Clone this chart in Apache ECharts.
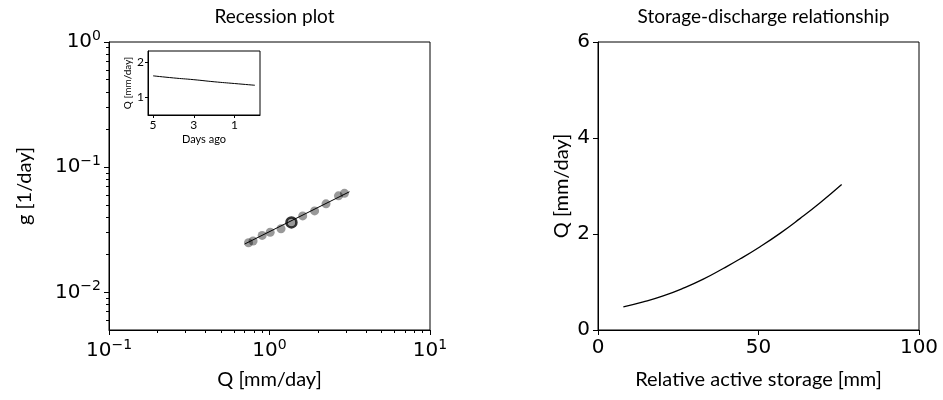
<!DOCTYPE html>
<html>
<head>
<meta charset="utf-8">
<script src="https://cdn.jsdelivr.net/npm/echarts@6/dist/echarts.min.js"></script>
<style>
  html, body { margin: 0; padding: 0; background: #fff; }
  #chart { width: 943px; height: 400px; }
</style>
</head>
<body>
<div id="chart"></div>
<script>
// Recession points: discharge Q [mm/day] and recession rate g [1/day]
const recessionQ = [0.74, 0.79, 0.90, 1.01, 1.18, 1.37, 1.61, 1.91, 2.25, 2.69, 2.93];
const recessionG = [0.0249, 0.0257, 0.0285, 0.0302, 0.0322, 0.0362, 0.0408, 0.0447, 0.0509, 0.0590, 0.0618];
// Fitted power-law line (end points)
const fitQ = [0.70, 3.15];
const fitG = [0.0243, 0.0636];
// Current state marker
const currentQ = [1.37];
const currentG = [0.0362];
// Inset: discharge over the last days
const daysAgo = [5, 4, 3, 2, 1, 0];
const insetQ = [1.60, 1.54, 1.49, 1.43, 1.38, 1.33];
// Storage-discharge relationship
const storage = [7.9, 14.1, 20.3, 26.6, 32.8, 39.0, 44.2, 50.5, 56.7, 62.9, 69.2, 75.9];
const storageQ = [0.481, 0.585, 0.711, 0.872, 1.060, 1.282, 1.478, 1.735, 2.013, 2.32, 2.65, 3.03];
// Tick positions
const logXMajor = [0.1, 1, 10];
const logXMinor = [0.2, 0.3, 0.4, 0.5, 0.6, 0.7, 0.8, 0.9, 2, 3, 4, 5, 6, 7, 8, 9];
const logYMajor = [0.01, 0.1, 1];
const logYMinor = [0.006, 0.007, 0.008, 0.009, 0.02, 0.03, 0.04, 0.05, 0.06, 0.07, 0.08, 0.09,
                   0.2, 0.3, 0.4, 0.5, 0.6, 0.7, 0.8, 0.9];
const insetXTicks = [1, 3, 5];
const insetYTicks = [1, 2];

const TICK_FONT = 'DejaVu Sans';
const TEXT_FONT = 'Lato';
const BLACK = '#000';

const MAIN_W = 321;
const MAIN_H = 288;

function powLabel(v) {
  const e = Math.round(Math.log10(v));
  return '{b|10}{s|' + (e < 0 ? '\u2212' : '') + Math.abs(e) + '}';
}
const powRich = {
  b: { fontFamily: TICK_FONT, fontSize: 20, color: BLACK },
  s: { fontFamily: TICK_FONT, fontSize: 14, color: BLACK, padding: [0, 0, 11, 0] }
};

const line = { show: true, onZero: false, lineStyle: { color: BLACK, width: 1 } };
const nameStyle = (size) => ({ fontFamily: TEXT_FONT, fontSize: size, color: BLACK });

// Helper axis that only draws the short minor ticks of a log axis
const minorAxis = (min, max, position, values) => ({
  gridIndex: 0, type: 'log', logBase: 10, min, max, position,
  axisLine: { show: false },
  axisTick: { show: true, customValues: values, length: 3, lineStyle: { color: BLACK, width: 1 } },
  axisLabel: { show: false },
  splitLine: { show: false }
});

const grids = [
  { left: 109, top: 42, width: MAIN_W, height: MAIN_H, show: true, borderColor: BLACK, borderWidth: 1, backgroundColor: 'transparent' },
  { left: 148, top: 51, width: 112, height: 64, show: true, borderColor: BLACK, borderWidth: 1, backgroundColor: '#fff' },
  { left: 598, top: 42, width: MAIN_W, height: MAIN_H, show: true, borderColor: BLACK, borderWidth: 1, backgroundColor: 'transparent' }
];

const option = {
  animation: false,
  backgroundColor: '#fff',
  title: [
    { text: 'Recession plot', left: 269.5, top: 2, textAlign: 'center',
      textStyle: { fontFamily: TEXT_FONT, fontSize: 19, fontWeight: 'normal', color: BLACK } },
    { text: 'Storage-discharge relationship', left: 758.5, top: 2, textAlign: 'center',
      textStyle: { fontFamily: TEXT_FONT, fontSize: 19, fontWeight: 'normal', color: BLACK } }
  ],
  grid: grids,
  xAxis: [
    { // recession plot, major ticks and labels
      gridIndex: 0, type: 'log', logBase: 10, min: 0.1, max: 10, position: 'bottom',
      axisLine: line,
      axisTick: { show: true, customValues: logXMajor, length: 5, lineStyle: { color: BLACK } },
      axisLabel: { customValues: logXMajor, formatter: powLabel, rich: powRich, margin: 8 },
      splitLine: { show: false },
      name: 'Q [mm/day]', nameLocation: 'middle', nameGap: 40, nameTextStyle: nameStyle(20)
    },
    minorAxis(0.1, 10, 'bottom', logXMinor),
    { // inset
      gridIndex: 1, type: 'value', inverse: true, min: -0.25, max: 5.25, position: 'bottom',
      axisLine: line,
      axisTick: { show: true, customValues: insetXTicks, length: 3, lineStyle: { color: BLACK } },
      axisLabel: { customValues: insetXTicks, fontFamily: TEXT_FONT, fontSize: 12, color: BLACK, margin: 4 },
      splitLine: { show: false },
      name: 'Days ago', nameLocation: 'middle', nameGap: 19, nameTextStyle: nameStyle(11)
    },
    { // storage-discharge
      gridIndex: 2, type: 'value', min: 0, max: 100, interval: 50, position: 'bottom',
      axisLine: line,
      axisTick: { show: true, length: 5, lineStyle: { color: BLACK } },
      axisLabel: { fontFamily: TICK_FONT, fontSize: 20, color: BLACK, margin: 8, showMinLabel: true, showMaxLabel: true },
      splitLine: { show: false },
      name: 'Relative active storage [mm]', nameLocation: 'middle', nameGap: 40, nameTextStyle: nameStyle(20)
    }
  ],
  yAxis: [
    {
      gridIndex: 0, type: 'log', logBase: 10, min: 0.005, max: 1, position: 'left',
      axisLine: line,
      axisTick: { show: true, customValues: logYMajor, length: 5, lineStyle: { color: BLACK } },
      axisLabel: { customValues: logYMajor, formatter: powLabel, rich: powRich, margin: 8 },
      splitLine: { show: false },
      name: 'g [1/day]', nameLocation: 'middle', nameGap: 74, nameTextStyle: nameStyle(20)
    },
    minorAxis(0.005, 1, 'left', logYMinor),
    {
      gridIndex: 1, type: 'value', min: 0.48, max: 2.31, position: 'left',
      axisLine: line,
      axisTick: { show: true, customValues: insetYTicks, length: 3, lineStyle: { color: BLACK } },
      axisLabel: { customValues: insetYTicks, fontFamily: TEXT_FONT, fontSize: 12, color: BLACK, margin: 4 },
      splitLine: { show: false },
      name: 'Q [mm/day]', nameLocation: 'middle', nameGap: 14, nameTextStyle: nameStyle(10)
    },
    {
      gridIndex: 2, type: 'value', min: 0, max: 6, interval: 2, position: 'left',
      axisLine: line,
      axisTick: { show: true, length: 5, lineStyle: { color: BLACK } },
      axisLabel: { fontFamily: TICK_FONT, fontSize: 20, color: BLACK, margin: 8, showMinLabel: true, showMaxLabel: true },
      splitLine: { show: false },
      name: 'Q [mm/day]', nameLocation: 'middle', nameGap: 26, nameTextStyle: nameStyle(20)
    }
  ],
  series: [
    {
      type: 'scatter', xAxisIndex: 0, yAxisIndex: 0, symbolSize: 9,
      itemStyle: { color: 'rgba(0,0,0,0.5)' },
      data: recessionQ.map((q, i) => [q, recessionG[i]]), z: 2
    },
    {
      type: 'line', xAxisIndex: 0, yAxisIndex: 0, showSymbol: false,
      lineStyle: { color: BLACK, width: 1 },
      data: fitQ.map((q, i) => [q, fitG[i]]), z: 3
    },
    {
      type: 'scatter', xAxisIndex: 0, yAxisIndex: 0, symbol: 'circle', symbolSize: 10,
      itemStyle: { color: 'rgba(0,0,0,0)', borderColor: BLACK, borderWidth: 2.5 },
      data: currentQ.map((q, i) => [q, currentG[i]]), z: 4
    },
    {
      type: 'line', xAxisIndex: 2, yAxisIndex: 2, showSymbol: false, smooth: true,
      lineStyle: { color: BLACK, width: 1 },
      data: daysAgo.map((d, i) => [d, insetQ[i]]), z: 5
    },
    {
      type: 'line', xAxisIndex: 3, yAxisIndex: 3, showSymbol: false, smooth: true,
      lineStyle: { color: BLACK, width: 1.3 },
      data: storage.map((s, i) => [s, storageQ[i]])
    }
  ]
};

echarts.init(document.getElementById('chart'), null, { renderer: 'canvas' }).setOption(option);
</script>
</body>
</html>
